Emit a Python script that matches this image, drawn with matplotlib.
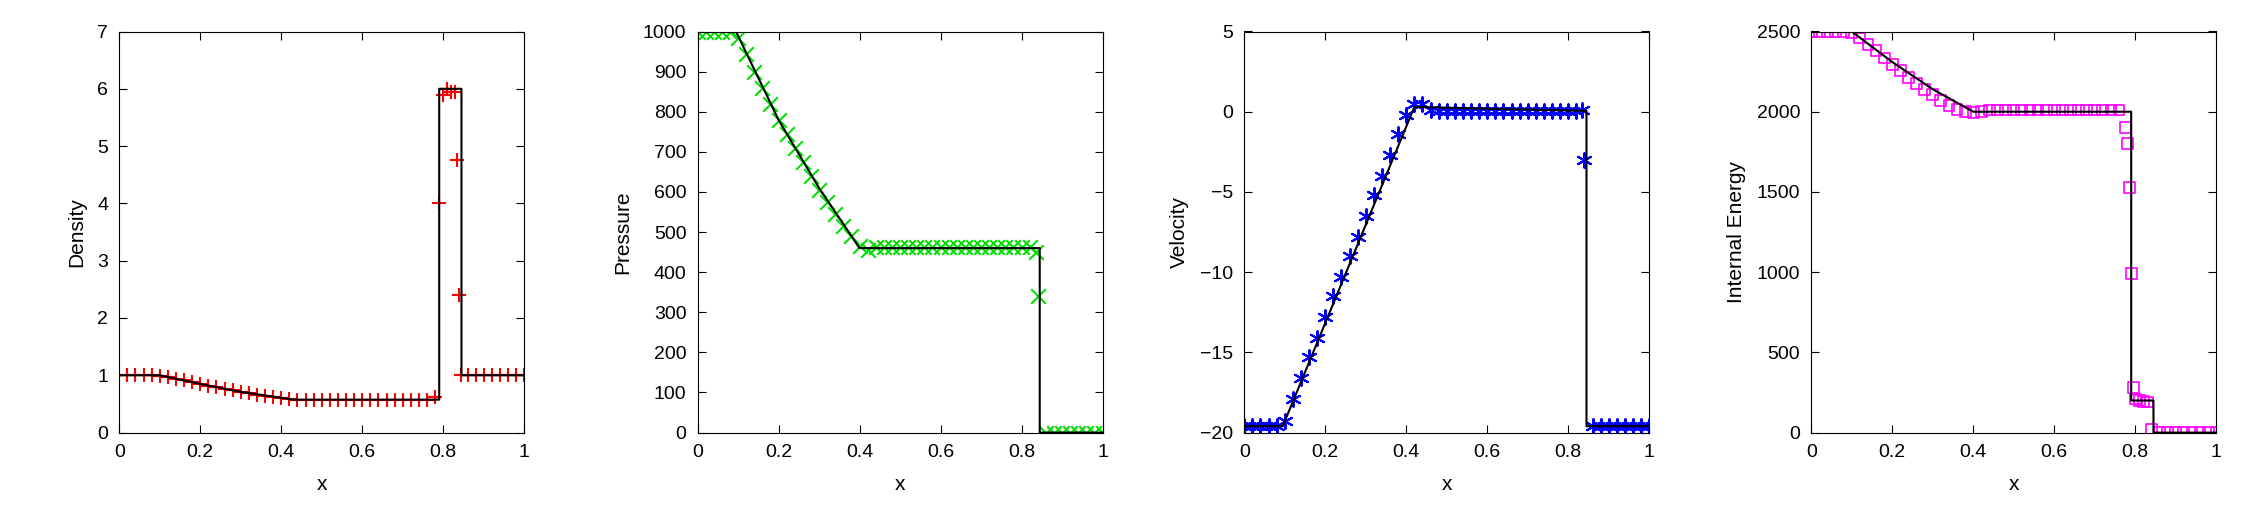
import matplotlib
matplotlib.use('Agg')

import numpy as np
import matplotlib.pyplot as plt

plt.rcParams['font.family'] = ['Liberation Sans', 'DejaVu Sans']
plt.rcParams['font.size'] = 13

# simulation samples, x every 0.02 plus a few extra points near the jumps
x_grid = list(np.round(np.arange(0, 1.0001, 0.02), 3))

rho_sim = [1, 1, 1, 1, 1,
           0.99, 0.97, 0.94, 0.91, 0.88, 0.85, 0.82, 0.79, 0.76, 0.735, 0.71,
           0.685, 0.66, 0.64, 0.62, 0.60, 0.585] + [0.575] * 17 + [0.62,
           5.9, 5.95, 2.4] + [1] * 8
rho_x_extra = [0.79, 0.81, 0.83, 0.835, 0.845]
rho_extra = [4.0, 6.0, 5.95, 4.75, 1.0]

p_sim = [1000] * 5 + [985, 945, 900, 860, 820, 780, 745, 710, 675, 640, 605,
         575, 545, 515, 490, 465, 455] + [462] * 20 + [340] + [0.01] * 8
p_x_extra = [0.835]
p_extra = [450]

v_sim = [-19.6] * 5 + [-19.3, -17.9, -16.6, -15.3, -14.1, -12.8, -11.5, -10.3,
         -9.0, -7.8, -6.5, -5.2, -4.0, -2.7, -1.4, -0.2, 0.5] + [0.5, 0.1] + \
        [0.05] * 18 + [-3.0] + [-19.6] * 8
v_x_extra = [0.835]
v_extra = [0.1]

e_sim = [2500] * 5 + [2490, 2460, 2420, 2380, 2335, 2295, 2255, 2215, 2175,
         2140, 2105, 2070, 2040, 2015, 2000, 1995, 2000] + [2010] * 17 + \
        [1800, 210, 195, 20] + [0] * 8
e_x_extra = [0.775, 0.785, 0.79, 0.795, 0.81, 0.83]
e_extra = [1900, 1530, 990, 280, 200, 190]

# exact solution
rho_x_ex = [0, 0.1, 0.2, 0.3, 0.43, 0.79, 0.79, 0.845, 0.845, 1.0]
rho_ex = [1, 1, 0.85, 0.71, 0.575, 0.575, 6, 6, 1, 1]
p_x_ex = [0, 0.095, 0.2, 0.3, 0.4, 0.845, 0.845, 1.0]
p_ex = [1000, 1000, 780, 610, 460, 460, 0, 0]
v_x_ex = [0, 0.095, 0.42, 0.845, 0.845, 1.0]
v_ex = [-19.6, -19.6, 0.3, 0.05, -19.6, -19.6]
e_x_ex = [0, 0.1, 0.2, 0.3, 0.4, 0.79, 0.79, 0.845, 0.845, 1.0]
e_ex = [2500, 2500, 2310, 2140, 2000, 2000, 200, 200, 0, 0]

asterisk = (6, 2, 0)
panels = [
    ("Density", rho_sim, rho_x_extra, rho_extra, rho_x_ex, rho_ex, '#ff0000', '+', (0, 7), np.arange(0, 8, 1)),
    ("Pressure", p_sim, p_x_extra, p_extra, p_x_ex, p_ex, '#00e000', 'x', (0, 1000), np.arange(0, 1001, 100)),
    ("Velocity", v_sim, v_x_extra, v_extra, v_x_ex, v_ex, '#0000ff', asterisk, (-20, 5), np.arange(-20, 6, 5)),
    ("Internal Energy", e_sim, e_x_extra, e_extra, e_x_ex, e_ex, '#ff00ff', 's', (0, 2500), np.arange(0, 2501, 500)),
]

lefts = [0.053, 0.31, 0.553, 0.805]
width = 0.18
fig = plt.figure(figsize=(22.5, 5.25), dpi=100)
for left, (label, ys, xe, ye, xex, yex, col, mk, ylim, yt) in zip(lefts, panels):
    ax = fig.add_axes([left, 0.176, width, 0.764])
    xs = x_grid + xe
    yy = ys + ye
    if mk == 's':
        ax.scatter(xs, yy, marker='s', facecolors='none', edgecolors=col, s=60, linewidths=1.2)
    else:
        ax.scatter(xs, yy, marker=mk, color=col, s=110, linewidths=1.5)
    ax.plot(xex, yex, color='black', lw=1.5)
    ax.set_xlim(0, 1)
    ax.set_ylim(*ylim)
    ax.set_yticks(yt)
    ax.set_xticks([0, 0.2, 0.4, 0.6, 0.8, 1])
    ax.set_xticklabels(['0', '0.2', '0.4', '0.6', '0.8', '1'])
    ax.tick_params(direction='in', top=True, right=True, length=6, labelsize=14, pad=8)
    ax.set_xlabel('x', fontsize=15, labelpad=10)
    ax.set_ylabel(label, fontsize=15, labelpad=8)

fig.savefig('out.png')
